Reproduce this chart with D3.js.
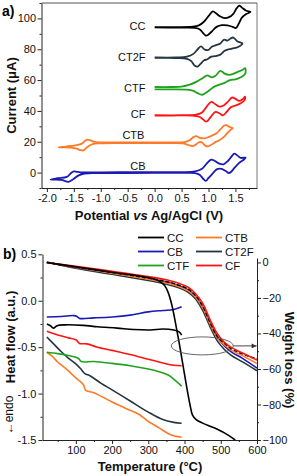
<!DOCTYPE html>
<html><head><meta charset="utf-8">
<script src="https://cdn.jsdelivr.net/npm/d3@7"></script>
<style>
body{margin:0;background:#fff;}
svg{display:block;font-family:"Liberation Sans",Arial,sans-serif;}
</style></head><body>
<svg id="c" width="297" height="476"></svg>
<script>
// ---------- Panel a data: cyclic voltammograms [E (V), I (uA)] ----------
const cvSeries = ["CC","CT2F","CTF","CF","CTB","CB"];
const cvCC = [[0,94.3],[0.4,94.3],[0.7,94.6],[0.82,95.5],[0.92,98],[1.0,101.5],[1.08,104.5],[1.15,103],[1.22,101.2],[1.3,100.2],[1.38,100.8],[1.46,103],[1.52,106.5],[1.57,108.3],[1.62,107],[1.7,105],[1.78,104.2],
 [1.7,102.8],[1.62,100.5],[1.56,96.5],[1.51,93.8],[1.45,94.5],[1.35,95.5],[1.25,95.6],[1.15,94.5],[1.06,91.5],[1.0,89.5],[0.95,88.8],[0.9,90.5],[0.84,92.8],[0.75,93.8],[0.5,94],[0,94]];
const cvCT2F = [[0,74.7],[0.4,74.7],[0.6,75.2],[0.72,77],[0.8,80],[0.86,81.8],[0.93,79.8],[1.0,79.6],[1.06,81.6],[1.14,82.7],[1.22,83.8],[1.29,86.2],[1.35,85.6],[1.41,87],[1.46,87.6],[1.54,85],[1.63,83.8],
 [1.55,81.5],[1.45,80.5],[1.38,80],[1.3,79],[1.22,76.5],[1.12,75.5],[1.05,75.2],[0.98,73.5],[0.92,72.8],[0.85,70.5],[0.8,68.8],[0.74,69.5],[0.68,72.3],[0.6,73.8],[0.4,74.3],[0,74.3]];
const cvCTF = [[0,55.5],[0.3,55.5],[0.5,55.8],[0.65,57],[0.78,59],[0.88,61],[0.98,63],[1.06,61.8],[1.13,62.8],[1.22,66],[1.3,64.2],[1.38,63.4],[1.46,64],[1.55,65.5],[1.63,66.5],[1.68,67.8],
 [1.68,64],[1.6,61.8],[1.5,60.5],[1.4,60],[1.3,58.2],[1.2,57],[1.1,55.6],[1.04,54],[0.96,52],[0.88,50.5],[0.8,51.5],[0.72,53],[0.6,53.8],[0.3,54],[0,54]];
const cvCF = [[0,37.2],[0.5,37.2],[0.75,37.5],[0.88,39],[0.97,43],[1.05,45.8],[1.12,44.5],[1.2,42.8],[1.28,43.5],[1.36,46],[1.44,48.7],[1.5,47.8],[1.57,46.5],[1.63,47.5],[1.68,49.2],
 [1.67,47],[1.6,45],[1.5,43.5],[1.42,42.5],[1.34,39.5],[1.27,37.2],[1.2,38.5],[1.13,39.3],[1.05,36.5],[0.99,33.8],[0.95,33],[0.9,34.5],[0.83,36.2],[0.7,37],[0.3,37],[0,37]];
const cvCTB = [[0,19.6],[0.3,19.6],[0.55,19.8],[0.65,21],[0.72,23],[0.77,23.7],[0.84,22.5],[0.92,22.2],[1.0,23],[1.08,24.3],[1.15,25.5],[1.22,28],[1.29,30.5],[1.33,30.8],[1.38,29.8],[1.45,28.8],
 [1.42,28],[1.36,26],[1.28,23],[1.2,21],[1.12,19.6],[1.05,18],[0.99,17],[0.94,17.5],[0.88,19.5],[0.83,19.8],[0.77,18.3],[0.71,17.2],[0.65,17.6],[0.55,18.8],[0.3,19.1],[0,19.1],[-0.5,19.1],[-1.0,19.0],[-1.14,18.6],[-1.25,16.6],[-1.32,14.4],[-1.38,14.6],[-1.45,15.6],[-1.55,16.2],[-1.65,16.4],[-1.78,16.4],
 [-1.65,16.9],[-1.47,17.7],[-1.35,18.8],[-1.29,20.6],[-1.25,21.4],[-1.2,21],[-1.12,19.9],[-1.0,19.6],[-0.5,19.6],[0,19.6]];
const cvCB = [[0,0.3],[0.5,0.3],[0.75,0.8],[0.88,2.5],[0.97,6],[1.05,8.4],[1.12,7.5],[1.2,5.8],[1.28,5.4],[1.36,7.5],[1.43,10.5],[1.48,12.3],[1.54,11],[1.6,9.5],[1.69,9.7],
 [1.64,8],[1.56,6],[1.48,3],[1.42,0.5],[1.38,-0.3],[1.32,1],[1.24,2.4],[1.16,2.2],[1.08,-0.5],[1.0,-3.5],[0.95,-5.4],[0.9,-4],[0.84,-1.5],[0.75,-0.3],[0.5,-0.2],[0,-0.2],[-0.5,-0.3],[-1.0,-0.4],[-1.3,-0.6],[-1.41,-1.8],[-1.5,-4],[-1.6,-6],[-1.66,-5.6],[-1.72,-4.8],[-1.85,-4.5],[-1.93,-4.5],
 [-1.8,-3.6],[-1.63,-2.8],[-1.55,-0.3],[-1.5,0.8],[-1.44,0.5],[-1.38,0.2],[-1.25,0.2],[-1.0,0.2],[-0.5,0.3],[0,0.3]];
const cvData = [cvCC,cvCT2F,cvCTF,cvCF,cvCTB,cvCB];
const cvLabelAt = [[-0.17,94.8],[-0.17,74.7],[-0.17,54.5],[-0.17,37.7],[-0.19,24.2],[-0.17,4.3]];
const aXTicks = [-2.0,-1.5,-1.0,-0.5,0.0,0.5,1.0,1.5];
const aYTicks = [0,20,40,60,80,100];

// ---------- Panel b data ----------
const bSeries = ["CC","CTB","CB","CT2F","CTF","CF"];
// DSC heat flow [T (degC), HF (a.u.)]
const dscCC = [[20,-0.25],[30,-0.27],[38,-0.295],[48,-0.27],[70,-0.26],[120,-0.265],[160,-0.28],[214,-0.295],[260,-0.31],[306,-0.315],[340,-0.305],[370,-0.315],[385,-0.335],[392,-0.37]];
const dscCB = [[20,-0.175],[60,-0.17],[95,-0.16],[103,-0.17],[110,-0.19],[150,-0.185],[200,-0.175],[250,-0.155],[300,-0.12],[340,-0.105],[370,-0.095],[392,-0.065]];
const dscCTF = [[20,-0.555],[50,-0.57],[80,-0.59],[100,-0.61],[108,-0.625],[115,-0.655],[150,-0.655],[200,-0.675],[250,-0.70],[300,-0.735],[330,-0.765],[355,-0.8],[375,-0.86],[392,-0.92]];
const dscCTB = [[20,-0.555],[35,-0.6],[50,-0.66],[75,-0.74],[100,-0.83],[120,-0.9],[128,-0.965],[150,-0.99],[200,-1.09],[250,-1.18],[275,-1.225],[300,-1.3],[330,-1.37],[360,-1.44],[392,-1.47]];
const dscCT2F = [[20,-0.39],[40,-0.47],[60,-0.55],[80,-0.62],[100,-0.68],[115,-0.74],[125,-0.785],[140,-0.81],[170,-0.89],[200,-0.96],[250,-1.08],[300,-1.20],[340,-1.28],[370,-1.31],[392,-1.32]];
const dscCF = [[20,-0.33],[50,-0.37],[80,-0.40],[100,-0.42],[110,-0.46],[130,-0.465],[160,-0.5],[200,-0.535],[250,-0.58],[300,-0.63],[340,-0.67],[370,-0.695],[392,-0.70]];
// TGA weight loss [T (degC), W (%)]
const tgaCC = [[20,0],[100,-2.5],[200,-5.5],[300,-8.5],[330,-10.5],[345,-13],[355,-17],[365,-24],[375,-34],[385,-45],[395,-57],[405,-69],[415,-80],[422,-86],[432,-88.5],[450,-90.5],[480,-93],[510,-96],[540,-100]];
const tgaCB = [[20,0],[100,-2.8],[200,-5.8],[300,-9],[350,-11],[380,-12.8],[410,-15.5],[430,-19],[450,-25],[470,-34],[490,-42],[510,-47],[530,-50.5],[560,-54],[600,-59.5]];
const tgaCTF = [[20,0],[100,-2.6],[200,-5.6],[300,-8.8],[350,-10.8],[380,-12.5],[410,-15],[430,-18.5],[450,-24.5],[470,-33.5],[490,-41.5],[510,-45.5],[530,-48.5],[560,-51.5],[600,-54.5]];
const tgaCTB = [[20,0],[100,-2.8],[200,-6],[300,-9.4],[350,-11.5],[380,-13.2],[410,-16],[430,-19.5],[450,-25.5],[470,-34.5],[490,-42.5],[510,-46.5],[530,-49.5],[560,-52.5],[600,-57]];
const tgaCT2F = [[20,0.3],[100,-3.3],[200,-6.7],[300,-10.2],[350,-12.3],[380,-14],[410,-16.8],[430,-20.5],[450,-27],[470,-36],[490,-44],[510,-49],[530,-52.5],[560,-56],[600,-61]];
const tgaCF = [[20,0],[100,-2.2],[200,-5],[300,-8],[350,-9.8],[380,-11.5],[410,-14],[430,-17.5],[450,-23],[470,-32],[490,-40],[510,-45],[530,-48],[560,-51],[600,-55]];
const bXTicks = [100,200,300,400,500,600];
const bYTicks = [0.5,0.0,-0.5,-1.0,-1.5];
const bRTicks = [0,-20,-40,-60,-80,-100];
const ellipseAt = [449,-47];
const arrowFrom = [535,-47], arrowTo = [599,-47];

// ---------- styles ----------
const color = {CC:"#000000",CT2F:"#24363f",CTF:"#1fa31f",CF:"#ff1414",CTB:"#ff7a26",CB:"#1a1ab4"};
const FONT = "'Liberation Sans', Arial, sans-serif";
const svg = d3.select("#c");

function axis(g, gen, minor){
  g.call(gen);
  g.attr("font-family",FONT).attr("font-size",11);
  g.selectAll(".domain").attr("stroke","#222");
  g.selectAll(".tick line").attr("stroke","#222");
  g.selectAll(".tick text").attr("fill","#111");
  if(minor){
    const m = g.append("g"); m.call(minor);
    m.select(".domain").remove();
    m.selectAll(".tick line").attr("stroke","#222");
    m.selectAll("text").remove();
  }
}

// ---------- Panel a ----------
const ax = d3.scaleLinear().domain([-2.1,1.9]).range([41.5,257]);
const ay = d3.scaleLinear().domain([-10,110]).range([188,3]);
svg.append("line").attr("x1",41.5).attr("x2",257).attr("y1",3).attr("y2",3).attr("stroke","#555");
svg.append("line").attr("x1",257).attr("x2",257).attr("y1",3).attr("y2",188).attr("stroke","#777");
const lineA = d3.line().x(d=>ax(d[0])).y(d=>ay(d[1])).curve(d3.curveCatmullRom.alpha(0.5));
cvData.forEach((d,i)=>{
  svg.append("path").attr("d",lineA(d)).attr("fill","none")
    .attr("stroke",color[cvSeries[i]]).attr("stroke-width",1.8).attr("stroke-linejoin","round");
  svg.append("text").attr("x",ax(cvLabelAt[i][0])).attr("y",ay(cvLabelAt[i][1])).attr("dy","0.35em")
    .attr("text-anchor","end").attr("font-size",11).attr("fill","#111").text(cvSeries[i]);
});
axis(svg.append("g").attr("transform","translate(0,188)"),
  d3.axisBottom(ax).tickValues(aXTicks).tickFormat(d=>d.toFixed(1)).tickSize(4).tickSizeOuter(0).tickPadding(2),
  d3.axisBottom(ax).tickValues(d3.range(-1.75,1.9,0.5)).tickSize(2).tickFormat(""));
axis(svg.append("g").attr("transform","translate(41.5,0)"),
  d3.axisLeft(ay).tickValues(aYTicks).tickSize(4).tickSizeOuter(0).tickPadding(1.5),
  d3.axisLeft(ay).tickValues([-10,10,30,50,70,90,110]).tickSize(2).tickFormat(""));
const tA = svg.append("text").attr("x",149).attr("y",220).attr("text-anchor","middle")
  .attr("font-size",13).attr("font-weight","bold").attr("fill","#111");
tA.append("tspan").text("Potential ");
tA.append("tspan").attr("font-style","italic").text("vs");
tA.append("tspan").text(" Ag/AgCl (V)");
svg.append("text").attr("transform","translate(15.5,95.5) rotate(-90)").attr("text-anchor","middle")
  .attr("font-size",13).attr("font-weight","bold").attr("fill","#111").text("Current (μA)");
svg.append("text").attr("x",2).attr("y",15.5).attr("font-size",14).attr("font-weight","bold").text("a)");

// ---------- Panel b ----------
const bx = d3.scaleLinear().domain([8,600]).range([42.5,257]);
const by = d3.scaleLinear().domain([-1.5,0.5]).range([440,254.3]);
const byR = d3.scaleLinear().domain([-100,2.5]).range([440,258]);
const lineB = d3.line().x(d=>bx(d[0])).y(d=>by(d[1])).curve(d3.curveCatmullRom.alpha(0.5));
const lineR = d3.line().x(d=>bx(d[0])).y(d=>byR(d[1])).curve(d3.curveCatmullRom.alpha(0.5));
const dscData = {CC:dscCC,CB:dscCB,CTF:dscCTF,CTB:dscCTB,CT2F:dscCT2F,CF:dscCF};
const tgaOrder = [["CT2F",tgaCT2F,null],["CB",tgaCB,null],["CTB",tgaCTB,null],["CTF",tgaCTF,"4,2"],["CF",tgaCF,null],["CC",tgaCC,null]];
["CTB","CT2F","CTF","CF","CC","CB"].forEach(k=>{
  svg.append("path").attr("d",lineB(dscData[k])).attr("fill","none")
    .attr("stroke",color[k]).attr("stroke-width",1.6);
});
tgaOrder.forEach(([k,d,dash])=>{
  svg.append("path").attr("d",lineR(d)).attr("fill","none")
    .attr("stroke",dash?"#000":color[k]).attr("stroke-width",1.6).attr("stroke-dasharray",dash);
});
// annotation
svg.append("ellipse").attr("cx",bx(ellipseAt[0])).attr("cy",byR(ellipseAt[1])).attr("rx",31).attr("ry",9)
  .attr("fill","none").attr("stroke","#555").attr("stroke-width",0.9);
svg.append("defs").append("marker").attr("id","ah").attr("viewBox","0 0 10 10").attr("refX",10).attr("refY",5)
  .attr("markerWidth",6).attr("markerHeight",5).attr("orient","auto").attr("markerUnits","userSpaceOnUse")
  .append("path").attr("d","M0,0L10,5L0,10z").attr("fill","#333");
svg.append("line").attr("x1",bx(arrowFrom[0])).attr("y1",byR(arrowFrom[1])).attr("x2",bx(arrowTo[0])).attr("y2",byR(arrowTo[1]))
  .attr("stroke","#333").attr("stroke-width",0.9).attr("marker-end","url(#ah)");

axis(svg.append("g").attr("transform","translate(0,440)"),
  d3.axisBottom(bx).tickValues(bXTicks).tickSize(4).tickSizeOuter(0).tickPadding(2),
  d3.axisBottom(bx).tickValues([50,150,250,350,450,550]).tickSize(2).tickFormat(""));
axis(svg.append("g").attr("transform","translate(42.5,0)"),
  d3.axisLeft(by).tickValues(bYTicks).tickFormat(d=>d.toFixed(1)).tickSize(4).tickSizeOuter(0).tickPadding(2),
  d3.axisLeft(by).tickValues([0.25,-0.25,-0.75,-1.25]).tickSize(2).tickFormat(""));
axis(svg.append("g").attr("transform","translate(257,0)"),
  d3.axisRight(byR).tickValues(bRTicks).tickSize(4).tickSizeOuter(0).tickPadding(1.5),
  d3.axisRight(byR).tickValues([-10,-30,-50,-70,-90]).tickSize(2).tickFormat(""));

svg.append("text").attr("x",150).attr("y",471).attr("text-anchor","middle")
  .attr("font-size",13).attr("font-weight","bold").attr("fill","#111").text("Temperature (°C)");
svg.append("text").attr("transform","translate(15,337) rotate(-90)").attr("text-anchor","middle")
  .attr("font-size",13).attr("font-weight","bold").attr("fill","#111").text("Heat flow (a.u.)");
svg.append("text").attr("transform","translate(13,415) rotate(-90)").attr("text-anchor","middle")
  .attr("font-size",12).attr("fill","#111").text("←endo");
svg.append("text").attr("transform","translate(285,360) rotate(90)").attr("text-anchor","middle")
  .attr("font-size",13).attr("font-weight","bold").attr("fill","#111").text("Weight loss (%)");
svg.append("text").attr("x",3).attr("y",259).attr("font-size",14).attr("font-weight","bold").text("b)");

// legend (row-major: CC CTB / CB CT2F / CTF CF)
const legX = [138,196], legY = [237.5,251.5,265.5];
bSeries.forEach((k,i)=>{
  const cx = legX[i%2], cy = legY[Math.floor(i/2)];
  svg.append("line").attr("x1",cx).attr("x2",cx+26).attr("y1",cy).attr("y2",cy)
    .attr("stroke",color[k]).attr("stroke-width",1.8);
  svg.append("text").attr("x",cx+29).attr("y",cy).attr("dy","0.35em").attr("font-size",11.5)
    .attr("fill","#111").text(k);
});
</script>
</body></html>
